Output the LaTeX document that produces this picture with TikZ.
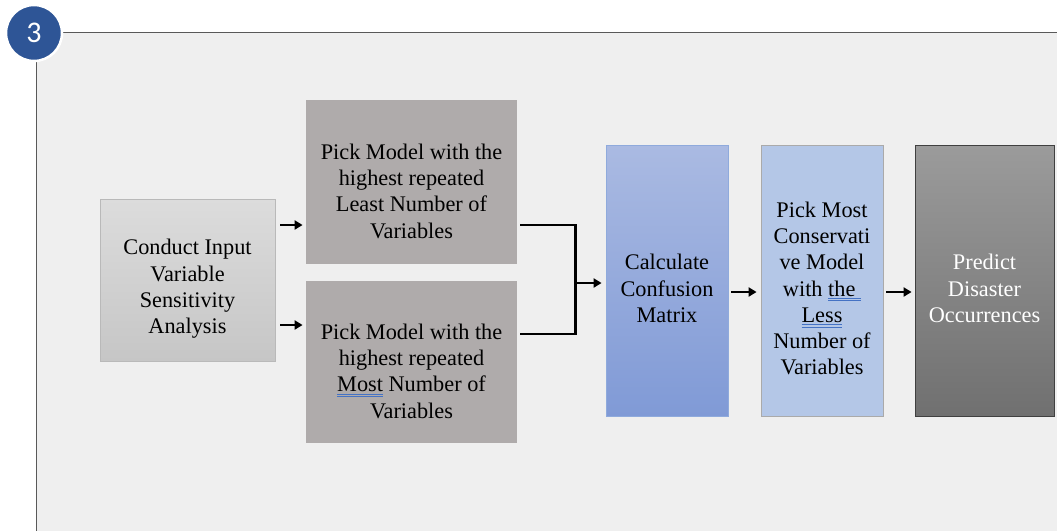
\documentclass[tikz,border=0pt]{standalone}
\usepackage{fontspec}
\setmainfont{Liberation Serif}
\newfontfamily\numfont{Carlito}
\usetikzlibrary{arrows.meta,calc}

\definecolor{panel}{HTML}{EFEFEF}
\definecolor{rulegray}{HTML}{595959}
\definecolor{badge}{HTML}{2E5596}
\definecolor{pickgray}{HTML}{AFABAB}
\definecolor{ulblue}{HTML}{4472C4}

% double blue underline under a word
\newcommand\dblul[1]{\setbox0\hbox{#1}%
  \rlap{\color{ulblue}\rule[-3pt]{\wd0}{1pt}}%
  \rlap{\color{ulblue}\rule[-5.4pt]{\wd0}{1pt}}\box0}

\tikzset{
  box/.style={rectangle, inner sep=0pt, line width=0.8pt},
  txt/.style={inner sep=0pt, align=center, font=\fontsize{22.3}{26.3}\selectfont},
  arr/.style={line width=2.4pt, -{Triangle[length=8pt,width=9pt]}},
  link/.style={line width=2.4pt}
}

\begin{document}
\begin{tikzpicture}[x=1pt,y=-1pt]
\useasboundingbox (0,0) rectangle (1057,531);
\fill[white] (0,0) rectangle (1057,531);

% panel with its frame lines
\fill[panel] (36,32) rectangle (1057,531);
\draw[rulegray, line width=1pt] (36,32) -- (1057,32);
\draw[rulegray, line width=1pt] (36,32) -- (36,531);

% step badge
\node[circle, minimum size=56pt, fill=badge, draw=white, line width=2.5pt,
  text=white, font=\numfont\fontsize{30}{30}\selectfont] (badge) at (34,33) {3};

% process boxes
\node[box, minimum width=175pt, minimum height=162pt, draw={rgb,255:red,185;green,185;blue,185},
  top color={rgb,255:red,220;green,220;blue,220}, bottom color={rgb,255:red,198;green,198;blue,198}]
  (A) at (187.5,280) {};
\node[txt] (At) at ($(A)+(0,9)$) {Conduct Input\\Variable\\Sensitivity\\Analysis};

\node[box, minimum width=211pt, minimum height=164pt, fill=pickgray] (B1) at (411.5,182) {};
\node[txt] (B1t) at ($(B1)+(0,9)$) {Pick Model with the\\highest repeated\\Least Number of\\Variables};

\node[box, minimum width=211pt, minimum height=162pt, fill=pickgray] (B2) at (411.5,362) {};
\node[txt] (B2t) at ($(B2)+(0,9)$) {Pick Model with the\\highest repeated\\\dblul{Most}\ Number of\\Variables};

\node[box, minimum width=122pt, minimum height=271pt, draw={rgb,255:red,143;green,170;blue,220},
  top color={rgb,255:red,170;green,186;blue,226}, bottom color={rgb,255:red,128;green,154;blue,214}]
  (C) at (667,280.5) {};
\node[txt] (Ct) at ($(C)+(0,8)$) {Calculate\\Confusion\\Matrix};

\node[box, minimum width=122pt, minimum height=271pt, draw={rgb,255:red,170;green,170;blue,170},
  fill={rgb,255:red,180;green,199;blue,231}] (D) at (822,280.5) {};
\node[txt] (Dt) at ($(D)+(0,8)$) {Pick Most\\Conservati\\ve Model\\with \dblul{the\ }\\\dblul{Less}\\Number of\\Variables};

\node[box, minimum width=139pt, minimum height=271pt, draw={rgb,255:red,64;green,64;blue,64},
  top color={rgb,255:red,155;green,155;blue,155}, bottom color={rgb,255:red,112;green,112;blue,112}]
  (E) at (984.5,280.5) {};
\node[txt, text=white] (Et) at ($(E)+(0,8)$) {Predict\\Disaster\\Occurrences};

% connectors
\coordinate (a1) at ($(A.east)+(5,-55)$);
\coordinate (a2) at ($(A.east)+(5,45)$);
\draw[arr, shorten >=3pt] (a1) -- (a1 -| B1.west);
\draw[arr, shorten >=3pt] (a2) -- (a2 -| B2.west);

\coordinate (u) at ($(B1.east)+(3,43)$);
\coordinate (l) at ($(B2.east)+(3,-28)$);
\coordinate (j) at ($(u)+(55,58)$);
\draw[link] (u) -- ++(55,0) |- (l);
\draw[arr, shorten >=4pt] (j) -- (j -| C.west);

\coordinate (c1) at ($(C.east)+(3,11.5)$);
\draw[arr, shorten >=4pt] (c1) -- (c1 -| D.west);
\coordinate (d1) at ($(D.east)+(3,11.5)$);
\draw[arr, shorten >=3pt] (d1) -- (d1 -| E.west);
\end{tikzpicture}
\end{document}
